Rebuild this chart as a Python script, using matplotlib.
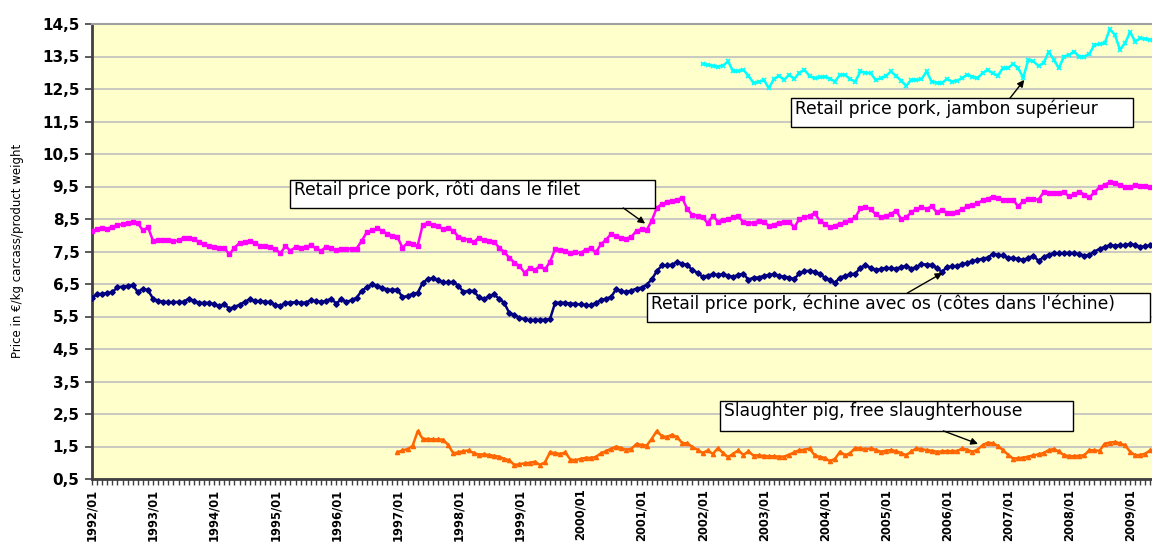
import matplotlib
matplotlib.use("Agg")
import matplotlib.pyplot as plt
from matplotlib.patches import Rectangle
from matplotlib.ticker import FixedLocator, FuncFormatter, MultipleLocator
import numpy as np

plt.rcParams["font.family"] = ["DejaVu Sans"]

# monthly prices, index 0 = 1992/01
first_year = 1992
last_year = 2009

roti = [
    8.14, 8.18, 8.21, 8.20, 8.26, 8.31, 8.34, 8.38, 8.40, 8.37, 8.15, 8.24,  # 1992
    7.83, 7.86, 7.85, 7.86, 7.82, 7.84, 7.92, 7.91, 7.90, 7.78, 7.72, 7.66,  # 1993
    7.64, 7.62, 7.61, 7.41, 7.62, 7.76, 7.79, 7.81, 7.75, 7.68, 7.66, 7.64,  # 1994
    7.58, 7.44, 7.66, 7.53, 7.63, 7.62, 7.64, 7.69, 7.60, 7.52, 7.64, 7.60,  # 1995
    7.54, 7.59, 7.58, 7.59, 7.59, 7.83, 8.09, 8.15, 8.21, 8.14, 8.04, 7.99,  # 1996
    7.95, 7.62, 7.76, 7.72, 7.68, 8.33, 8.37, 8.32, 8.27, 8.20, 8.22, 8.14,  # 1997
    7.95, 7.90, 7.86, 7.78, 7.93, 7.86, 7.82, 7.80, 7.62, 7.48, 7.31, 7.16,  # 1998
    7.05, 6.85, 6.98, 6.92, 7.06, 6.95, 7.18, 7.57, 7.55, 7.52, 7.44, 7.47,  # 1999
    7.46, 7.55, 7.60, 7.47, 7.72, 7.86, 8.04, 7.98, 7.93, 7.90, 7.95, 8.14,  # 2000
    8.18, 8.16, 8.45, 8.85, 8.96, 9.02, 9.05, 9.10, 9.14, 8.80, 8.62, 8.60,  # 2001
    8.55, 8.37, 8.60, 8.42, 8.48, 8.50, 8.55, 8.58, 8.40, 8.38, 8.37, 8.45,  # 2002
    8.42, 8.29, 8.33, 8.38, 8.40, 8.42, 8.24, 8.50, 8.55, 8.60, 8.68, 8.45,  # 2003
    8.35, 8.24, 8.30, 8.35, 8.40, 8.47, 8.55, 8.83, 8.88, 8.80, 8.65, 8.55,  # 2004
    8.60, 8.65, 8.76, 8.50, 8.55, 8.71, 8.80, 8.86, 8.81, 8.89, 8.71, 8.78,  # 2005
    8.70, 8.67, 8.73, 8.80, 8.89, 8.92, 8.98, 9.07, 9.12, 9.19, 9.15, 9.09,  # 2006
    9.09, 9.09, 8.89, 9.05, 9.12, 9.11, 9.10, 9.32, 9.31, 9.30, 9.31, 9.32,  # 2007
    9.20, 9.26, 9.34, 9.25, 9.17, 9.32, 9.48, 9.55, 9.63, 9.60, 9.55, 9.50,  # 2008
    9.48, 9.55, 9.52, 9.53, 9.48,                                            # 2009
]

echine = [
    6.08, 6.18, 6.20, 6.22, 6.25, 6.40, 6.42, 6.44, 6.47, 6.25, 6.36, 6.31,  # 1992
    6.05, 5.98, 5.96, 5.94, 5.94, 5.95, 5.95, 6.05, 5.98, 5.92, 5.92, 5.92,  # 1993
    5.88, 5.82, 5.88, 5.74, 5.80, 5.86, 5.95, 6.03, 5.98, 5.97, 5.96, 5.94,  # 1994
    5.86, 5.82, 5.92, 5.93, 5.94, 5.92, 5.93, 6.00, 5.97, 5.95, 5.98, 6.05,  # 1995
    5.90, 6.03, 5.95, 6.00, 6.08, 6.29, 6.40, 6.49, 6.45, 6.39, 6.33, 6.32,  # 1996
    6.33, 6.10, 6.13, 6.20, 6.23, 6.54, 6.65, 6.68, 6.61, 6.55, 6.56, 6.56,  # 1997
    6.45, 6.25, 6.30, 6.28, 6.10, 6.03, 6.12, 6.18, 6.05, 5.92, 5.61, 5.55,  # 1998
    5.46, 5.42, 5.38, 5.40, 5.40, 5.40, 5.42, 5.92, 5.93, 5.92, 5.90, 5.89,  # 1999
    5.87, 5.86, 5.84, 5.92, 6.00, 6.05, 6.10, 6.34, 6.28, 6.25, 6.30, 6.36,  # 2000
    6.39, 6.48, 6.64, 6.90, 7.07, 7.08, 7.09, 7.19, 7.12, 7.09, 6.92, 6.85,  # 2001
    6.72, 6.76, 6.80, 6.78, 6.80, 6.76, 6.72, 6.78, 6.82, 6.63, 6.70, 6.70,  # 2002
    6.75, 6.78, 6.80, 6.75, 6.73, 6.70, 6.65, 6.83, 6.89, 6.91, 6.88, 6.80,  # 2003
    6.70, 6.62, 6.54, 6.70, 6.75, 6.80, 6.82, 7.00, 7.08, 7.00, 6.93, 6.96,  # 2004
    7.00, 6.98, 6.97, 7.02, 7.06, 6.97, 7.02, 7.11, 7.10, 7.09, 7.00, 6.87,  # 2005
    7.02, 7.04, 7.06, 7.11, 7.15, 7.20, 7.24, 7.28, 7.31, 7.42, 7.40, 7.38,  # 2006
    7.31, 7.30, 7.27, 7.24, 7.30, 7.37, 7.21, 7.33, 7.40, 7.45, 7.44, 7.45,  # 2007
    7.46, 7.45, 7.42, 7.37, 7.40, 7.50, 7.58, 7.64, 7.69, 7.68, 7.69, 7.70,  # 2008
    7.73, 7.70, 7.64, 7.66, 7.69,                                            # 2009
]

# slaughter pig prices start 1997/01
slaughter_start = 60
slaughter = [
    1.32, 1.38, 1.42, 1.52, 1.97, 1.74, 1.73, 1.72, 1.72, 1.71, 1.55, 1.29,  # 1997
    1.32, 1.36, 1.38, 1.30, 1.25, 1.26, 1.24, 1.21, 1.19, 1.12, 1.08, 0.93,  # 1998
    0.96, 0.98, 1.00, 1.03, 0.94, 1.01, 1.32, 1.30, 1.27, 1.32, 1.10, 1.08,  # 1999
    1.12, 1.15, 1.15, 1.18, 1.29, 1.36, 1.43, 1.50, 1.45, 1.40, 1.43, 1.58,  # 2000
    1.55, 1.53, 1.74, 1.98, 1.81, 1.80, 1.86, 1.79, 1.60, 1.60, 1.48, 1.40,  # 2001
    1.30, 1.38, 1.27, 1.45, 1.30, 1.17, 1.28, 1.38, 1.24, 1.35, 1.22, 1.23,  # 2002
    1.21, 1.20, 1.20, 1.19, 1.19, 1.25, 1.32, 1.39, 1.40, 1.44, 1.23, 1.18,  # 2003
    1.15, 1.05, 1.12, 1.34, 1.23, 1.30, 1.46, 1.44, 1.42, 1.44, 1.40, 1.34,  # 2004
    1.37, 1.39, 1.36, 1.30, 1.23, 1.35, 1.44, 1.42, 1.39, 1.37, 1.34, 1.35,  # 2005
    1.36, 1.36, 1.36, 1.44, 1.40, 1.34, 1.40, 1.54, 1.62, 1.60, 1.52, 1.39,  # 2006
    1.25, 1.13, 1.14, 1.16, 1.19, 1.23, 1.26, 1.30, 1.39, 1.42, 1.35, 1.23,  # 2007
    1.21, 1.20, 1.22, 1.23, 1.39, 1.38, 1.37, 1.59, 1.62, 1.64, 1.60, 1.54,  # 2008
    1.34, 1.23, 1.24, 1.28, 1.39,                                            # 2009
]

# jambon prices start 2002/01
jambon_start = 120
jambon = [
    13.27, 13.25, 13.21, 13.19, 13.22, 13.35, 13.04, 13.05, 13.09, 12.91, 12.68, 12.72,  # 2002
    12.78, 12.53, 12.80, 12.91, 12.78, 12.94, 12.81, 13.00, 13.09, 12.90, 12.83, 12.86,  # 2003
    12.88, 12.82, 12.73, 12.94, 12.94, 12.80, 12.73, 13.04, 13.00, 12.99, 12.78, 12.83,  # 2004
    12.90, 13.04, 12.90, 12.76, 12.60, 12.78, 12.78, 12.80, 13.04, 12.73, 12.70, 12.68,  # 2005
    12.81, 12.73, 12.76, 12.83, 12.94, 12.88, 12.83, 12.99, 13.09, 12.98, 12.91, 13.14,  # 2006
    13.14, 13.27, 13.14, 12.85, 13.40, 13.35, 13.21, 13.30, 13.65, 13.40, 13.14, 13.50,  # 2007
    13.55, 13.65, 13.50, 13.50, 13.58, 13.86, 13.88, 13.91, 14.34, 14.17, 13.71, 13.91,  # 2008
    14.25, 13.96, 14.06, 14.04, 14.01,                                                   # 2009
]

year_labels = ["%d/01" % y for y in range(first_year, last_year + 1)]
y_ticks = np.arange(0.5, 14.6, 1.0)

# label boxes: text, box (x0, x1, ytop, ybottom), arrow tail, arrow head
labels = [
    ("Retail price pork, jambon supérieur", (137.4, 204.6, 12.22, 11.33), (180.4, 12.22), (183.2, 12.78)),
    ("Retail price pork, rôti dans le filet", (38.9, 110.7, 9.70, 8.84), (104.4, 8.84), (108.7, 8.36)),
    ("Retail price pork, échine avec os (côtes dans l'échine)", (109.1, 207.9, 6.22, 5.33), (160.2, 6.22), (167.1, 6.84)),
    ("Slaughter pig, free slaughterhouse", (123.4, 192.8, 2.90, 1.98), (167.3, 1.98), (174.1, 1.58)),
]

fig = plt.figure(figsize=(11.52, 5.43), dpi=100)
ax = fig.add_axes([92 / 1152, 1 - 479 / 543, 1 - 92 / 1152, (479 - 24) / 543])
ax.set_facecolor("#FFFFCC")

x_roti = np.arange(len(roti))
x_echine = np.arange(len(echine))
x_sl = np.arange(len(slaughter)) + slaughter_start
x_jb = np.arange(len(jambon)) + jambon_start

ax.plot(x_roti, roti, color="#FF00FF", lw=1.8, marker="s", ms=3, mec="#FF00FF", zorder=3)
ax.plot(x_echine, echine, color="#000080", lw=1.8, marker="D", ms=2.8, mec="#000080", zorder=3)
ax.plot(x_sl, slaughter, color="#FF6600", lw=1.8, marker="^", ms=3, mec="#FF6600", zorder=3)
ax.plot(x_jb, jambon, color="#00FFFF", lw=1.8, marker="x", ms=3, mew=1.2, mec="#00FFFF", zorder=3)

ax.set_xlim(0, 208.3)
ax.set_ylim(0.5, 14.5)

ax.yaxis.set_major_locator(FixedLocator(y_ticks))
ax.yaxis.set_major_formatter(FuncFormatter(lambda v, p: ("%.1f" % v).replace(".", ",")))
ax.grid(axis="y", color="#C0C0C0", lw=1.2, zorder=0)
ax.set_axisbelow(True)

ax.xaxis.set_major_locator(FixedLocator(np.arange(0, 12 * len(year_labels), 12)))
ax.xaxis.set_minor_locator(MultipleLocator(1))
ax.set_xticklabels(year_labels, rotation=90, fontsize=8.3, fontweight="bold")
ax.tick_params(axis="x", which="both", direction="out", length=4, width=1, color="#404040", pad=3)
ax.tick_params(axis="y", direction="out", length=5, width=1.2, color="#404040", labelsize=11, pad=4)
for t in ax.get_yticklabels():
    t.set_fontweight("bold")

ax.spines["left"].set_color("#404040")
ax.spines["left"].set_linewidth(2)
ax.spines["bottom"].set_color("#404040")
ax.spines["bottom"].set_linewidth(2)
ax.spines["top"].set_color("#A0A0A0")
ax.spines["top"].set_linewidth(1.5)
ax.spines["right"].set_visible(False)

for text, (x0, x1, yt, yb), tail, head in labels:
    ax.add_patch(Rectangle((x0, yb), x1 - x0, yt - yb, facecolor="white",
                           edgecolor="black", lw=1, zorder=4))
    ax.text(x0 + 0.8, yt - 0.03, text, fontsize=12.3, va="top", ha="left", zorder=5)
    ax.annotate("", xy=head, xytext=tail, zorder=5,
                arrowprops=dict(arrowstyle="-|>", color="black", lw=1,
                                mutation_scale=10, shrinkA=0, shrinkB=0))

fig.text(18 / 1152, 1 - 251 / 543, "Price in €/kg carcass/product weight",
         rotation=90, fontsize=8.5, va="center", ha="center")

plt.savefig("out.png", dpi=100)
